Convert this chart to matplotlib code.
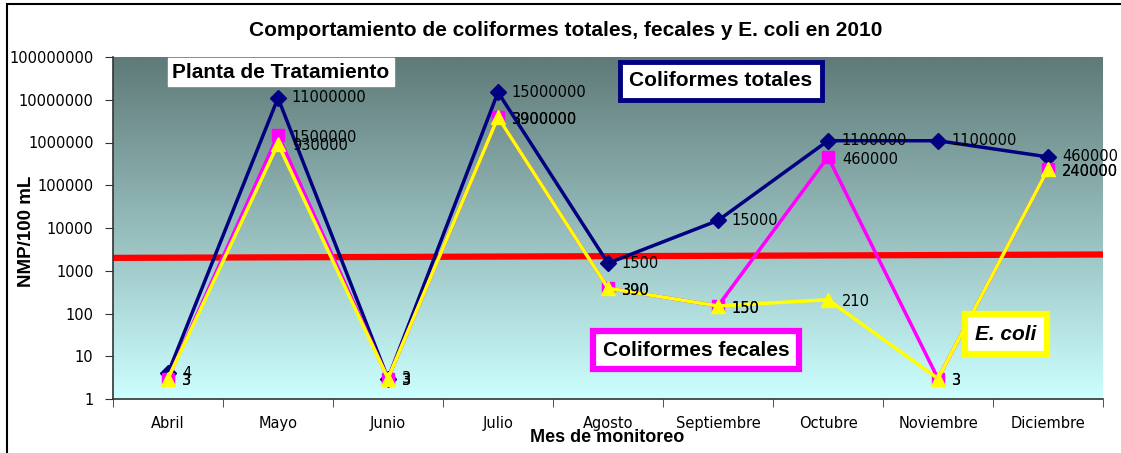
import numpy as np
import matplotlib
matplotlib.use("Agg")
import matplotlib.pyplot as plt
from matplotlib.patches import Rectangle

months = ["Abril", "Mayo", "Junio", "Julio", "Agosto", "Septiembre",
          "Octubre", "Noviembre", "Diciembre"]
totales = [4, 11000000, 3, 15000000, 1500, 15000, 1100000, 1100000, 460000]
fecales = [3, 1500000, 3, 3900000, 390, 150, 460000, 3, 240000]
ecoli = [3, 930000, 3, 3900000, 390, 150, 210, 3, 240000]
limit_line = [2000, 2400]
yticks = [1, 10, 100, 1000, 10000, 100000, 1000000, 10000000, 100000000]

W, H = 1121, 453
fig = plt.figure(figsize=(W / 100, H / 100), dpi=100)
fig.patch.set_facecolor("white")

def fx(px):
    return px / W

def fy(py):
    return 1 - py / H

ax_l, ax_r, ax_t, ax_b = 113, 1103, 57, 399
ax = fig.add_axes([fx(ax_l), fy(ax_b), fx(ax_r - ax_l), (ax_b - ax_t) / H])

# gradient background
top = np.array([95, 122, 120]) / 255
bot = np.array([204, 255, 255]) / 255
n = 256
t = np.linspace(0, 1, n)[:, None]
grad = top[None, :] * (1 - t) + bot[None, :] * t
img = np.repeat(grad[:, None, :], 2, axis=1)
ax.imshow(img, extent=[0, 1, 0, 1], transform=ax.transAxes, aspect="auto",
          zorder=0, interpolation="bilinear")

x = np.arange(len(months))
ax.set_yscale("log")
ax.set_ylim(1, 1e8)
ax.set_xlim(-0.5, len(months) - 0.5)

# red reference line
ax.plot([-0.5, len(months) - 0.5], limit_line, color="#ff0000", lw=4.5, zorder=2)

ax.plot(x, totales, color="#000080", lw=2.5, marker="D", ms=8, zorder=3)
ax.plot(x, fecales, color="#ff00ff", lw=2.5, marker="s", ms=9, zorder=4)
ax.plot(x, ecoli, color="#ffff00", lw=2.5, marker="^", ms=10, zorder=5)

lab_font = dict(family="DejaVu Sans", fontsize=10.5, color="black",
                va="center", ha="left", zorder=6)
for xi, v in zip(x, totales):
    ax.annotate(str(v), (xi, v), xytext=(10, 0), textcoords="offset points", **lab_font)
for xi, v in zip(x, fecales):
    ax.annotate(str(v), (xi, v), xytext=(10, -1.5), textcoords="offset points", **lab_font)
for xi, v in zip(x, ecoli):
    ax.annotate(str(v), (xi, v), xytext=(10, -1.5), textcoords="offset points", **lab_font)

ax.set_yticks(yticks)
ax.set_yticklabels([str(v) for v in yticks], family="DejaVu Sans", fontsize=10.5)
ax.yaxis.set_minor_locator(matplotlib.ticker.NullLocator())
ax.set_xticks(x)
ax.set_xticklabels(months, family="DejaVu Sans", fontsize=10.5)
ax.set_xticks(np.arange(-0.5, len(months)), minor=True)
ax.tick_params(axis="x", which="major", length=0, pad=12)
ax.tick_params(axis="x", which="minor", length=6, direction="out", color="#333333")
ax.tick_params(axis="y", length=6, direction="out", color="#333333", pad=8)
for s in ["top", "right"]:
    ax.spines[s].set_visible(False)
for s in ["left", "bottom"]:
    ax.spines[s].set_color("#333333")
    ax.spines[s].set_linewidth(1.2)

fig.text(fx(607), fy(438), "Mes de monitoreo", ha="center", va="center",
         family="Liberation Sans", fontweight="bold", fontsize=13)
fig.text(fx(27), fy(231), "NMP/100 mL", ha="center", va="center", rotation=90,
         family="Liberation Sans", fontweight="bold", fontsize=13.5)
fig.text(fx(566), fy(30), "Comportamiento de coliformes totales, fecales y E. coli en 2010",
         ha="center", va="center", family="Liberation Sans", fontweight="bold", fontsize=15)

box_font = dict(ha="center", va="center", family="Liberation Sans",
                fontweight="bold", fontsize=15, zorder=10)
fig.text(fx(281), fy(72), "Planta de Tratamiento",
         bbox=dict(boxstyle="square,pad=0.2", fc="white", ec="white"), **box_font)
fig.text(fx(721), fy(81), "Coliformes totales",
         bbox=dict(boxstyle="square,pad=0.45", fc="white", ec="#000080", lw=3.5), **box_font)
fig.text(fx(696), fy(350), "Coliformes fecales",
         bbox=dict(boxstyle="square,pad=0.45", fc="white", ec="#ff00ff", lw=4.5), **box_font)
fig.text(fx(1006), fy(334), "E. coli", style="italic",
         bbox=dict(boxstyle="square,pad=0.5", fc="white", ec="#ffff00", lw=4.5), **box_font)

# outer chart border (cropped on right and bottom)
fig.patches.append(Rectangle((fx(7), -0.1), 1.2, fy(4) + 0.1, transform=fig.transFigure,
                             fill=False, ec="black", lw=1.5, zorder=-1))

fig.savefig("out.png", dpi=100)
